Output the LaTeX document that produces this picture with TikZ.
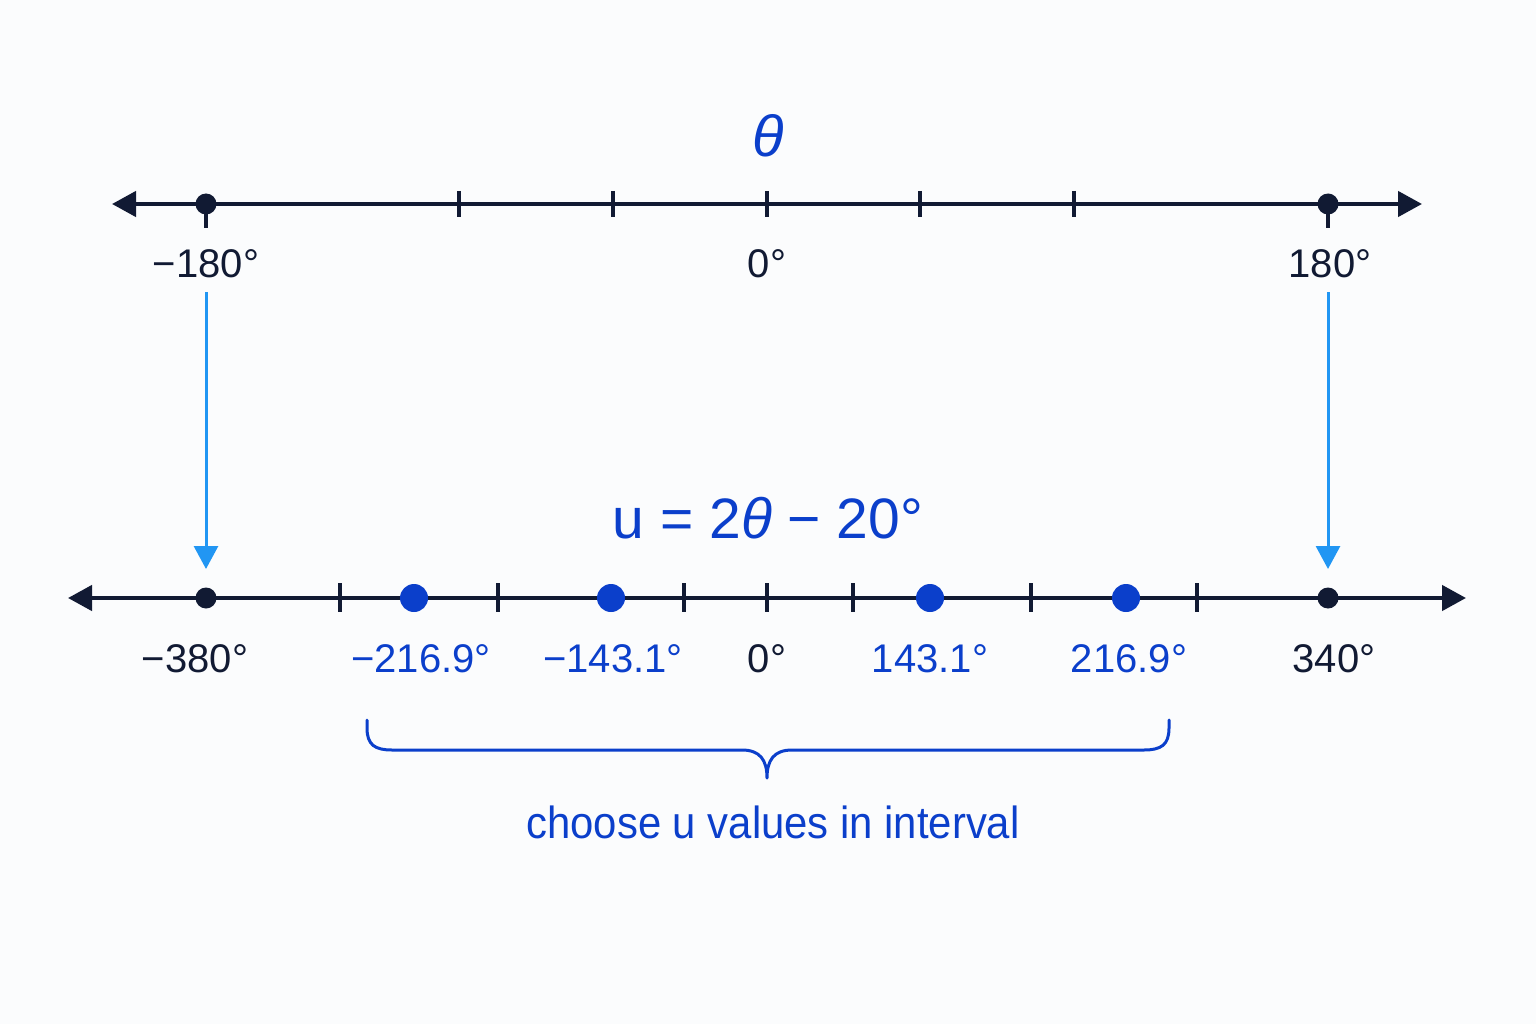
\documentclass[tikz,border=0pt]{standalone}
\usepackage{fontspec}
\setmainfont{Liberation Sans}
\newfontfamily\narrowsans[FakeStretch=0.93]{Liberation Sans}
\usetikzlibrary{arrows.meta}
\definecolor{navy}{HTML}{111A33}
\definecolor{tblue}{HTML}{0B3FCB}
\definecolor{abl}{HTML}{2196F3}
\definecolor{bg}{HTML}{FBFCFD}
\begin{document}
\begin{tikzpicture}[x=1pt,y=-1pt,
  axis/.style={line width=4.5pt, draw=navy, {Triangle[length=24pt,width=25pt]}-{Triangle[length=24pt,width=25pt]}},
  tickmark/.style={line width=3.2pt, draw=navy},
  bdot/.style={circle, fill=navy, minimum size=21pt, inner sep=0pt},
  udot/.style={circle, fill=tblue, minimum size=28pt, inner sep=0pt},
  lab/.style={font=\fontsize{40}{48}\selectfont, text=navy, anchor=base, inner sep=0pt},
  blab/.style={lab, text=tblue},
  mapto/.style={line width=3pt, draw=abl, -{Triangle[length=23pt,width=24pt]}},
  brace/.style={line width=3pt, draw=tblue, line cap=round, line join=round},
]
\useasboundingbox[fill=bg] (0,0) rectangle (1536,1024);

% top axis
\coordinate (tl) at (112,204);
\coordinate (tr) at (1422,204);
\draw[axis] (tl) -- (tr);
\foreach \x in {459,613,767,920,1074} \draw[tickmark] (\x,191) -- (\x,217);
\foreach \x in {206,1328} \draw[tickmark] (\x,194) -- (\x,228);
\node[bdot] (tm) at (206,204) {};
\node[bdot] (tp) at (1328,204) {};
\node[blab, font=\fontsize{58}{62}\selectfont\itshape] (theta) at (768,157) {θ};
\node[lab] (lm180) at (206,277) {−180°};
\node[lab] (l0t) at (767,277) {0°};
\node[lab] (l180) at (1330,277) {180°};

% mapping arrows
\coordinate (a1s) at (206,292);
\coordinate (a1e) at (206,569);
\coordinate (a2s) at (1328,292);
\coordinate (a2e) at (1328,569);
\draw[mapto] (a1s) -- (a1e);
\draw[mapto] (a2s) -- (a2e);

% bottom axis
\node[blab, font=\fontsize{57}{62}\selectfont] (title) at (768,538) {u = 2\textit{θ} − 20°};
\coordinate (bl) at (68,598);
\coordinate (br) at (1466,598);
\draw[axis] (bl) -- (br);
\foreach \x in {340,498,684,767,853,1031,1197} \draw[tickmark] (\x,583) -- (\x,612);
\node[bdot] (bm) at (206,598) {};
\node[bdot] (bp) at (1328,598) {};
\node[udot] (u1) at (414,598) {};
\node[udot] (u2) at (611,598) {};
\node[udot] (u3) at (930,598) {};
\node[udot] (u4) at (1126,598) {};
\node[lab] (lm380) at (195,672) {−380°};
\node[blab] (lu1) at (421,672) {−216.9°};
\node[blab] (lu2) at (613,672) {−143.1°};
\node[lab] (l0b) at (767,672) {0°};
\node[blab] (lu3) at (930,672) {143.1°};
\node[blab] (lu4) at (1129,672) {216.9°};
\node[lab] (l340) at (1334,672) {340°};

% brace
\draw[brace] (367,720) -- (367,728) .. controls (367,745) and (375,750) .. (392,750)
  -- (742,750) .. controls (760,750) and (767,760) .. (767,778)
  .. controls (767,760) and (774,750) .. (792,750)
  -- (1144,750) .. controls (1161,750) and (1169,745) .. (1169,728) -- (1169,720);
\node[blab, font=\fontsize{45}{50}\narrowsans] (note) at (773,838) {choose u values in interval};
\end{tikzpicture}
\end{document}
